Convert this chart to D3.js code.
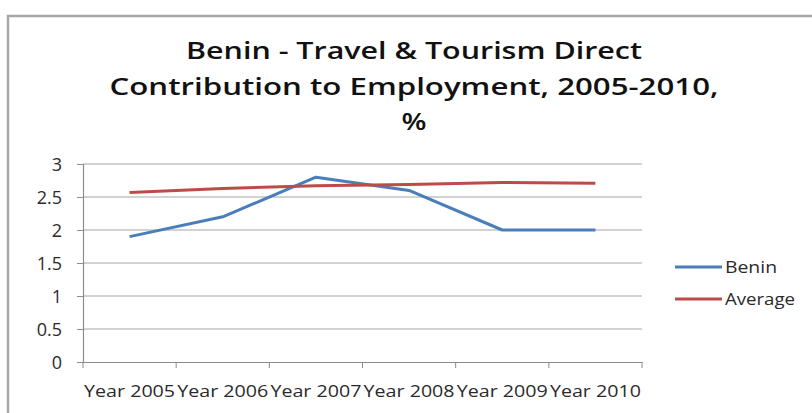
<!DOCTYPE html>
<html>
<head>
<meta charset="utf-8">
<script src="https://cdn.jsdelivr.net/npm/d3@7"></script>
<style>
  html, body { margin: 0; padding: 0; background: #fff; }
  svg { display: block; }
</style>
</head>
<body>
<svg id="chart" width="812" height="413"></svg>
<script>
// Travel & Tourism direct contribution to employment, Benin vs. average
const years = ["Year 2005", "Year 2006", "Year 2007", "Year 2008", "Year 2009", "Year 2010"];
const benin = [1.9, 2.2, 2.8, 2.6, 2.0, 2.0];
const average = [2.57, 2.63, 2.67, 2.69, 2.72, 2.71];
const yTicks = [0, 0.5, 1, 1.5, 2, 2.5, 3];
const seriesNames = ["Benin", "Average"];
const seriesColors = ["#4a7ebb", "#be4b48"];

const svg = d3.select("#chart");
const font = "'Open Sans', 'Noto Sans', sans-serif";
const textColor = "#2a2a2a";

// Outer chart frame
svg.append("rect")
  .attr("x", 8).attr("y", 16)
  .attr("width", 830).attr("height", 420)
  .attr("fill", "#fff").attr("stroke", "#a8a8a8").attr("stroke-width", 2.5);

// Title (three centred lines, slightly widened)
const titleLines = [
  { text: "Benin - Travel & Tourism Direct", width: 456 },
  { text: "Contribution to Employment, 2005-2010,", width: 609 },
  { text: "%", width: 25 }
];
svg.append("g").selectAll("text").data(titleLines).join("text")
  .attr("x", 414).attr("y", (d, i) => 59 + i * 35.5)
  .attr("text-anchor", "middle")
  .attr("font-family", font).attr("font-weight", 600).attr("font-size", 23)
  .attr("fill", "#111")
  .attr("textLength", d => d.width).attr("lengthAdjust", "spacingAndGlyphs")
  .text(d => d.text);

const plotLeft = 83, plotRight = 642, plotTop = 164, plotBottom = 362;
const x = d3.scaleBand().domain(years).range([plotLeft, plotRight]).padding(0);
const y = d3.scaleLinear().domain([0, 3]).range([plotBottom, plotTop]);

// Gridlines
svg.append("g").selectAll("line").data(yTicks.filter(t => t > 0)).join("line")
  .attr("x1", plotLeft).attr("x2", plotRight)
  .attr("y1", d => y(d)).attr("y2", d => y(d))
  .attr("stroke", "#a6a6a6").attr("stroke-width", 1.2);

// Y axis
const yAxis = svg.append("g").attr("transform", `translate(${plotLeft},0)`)
  .call(d3.axisLeft(y).tickValues(yTicks).tickSize(6).tickPadding(15).tickFormat(d3.format("")));
yAxis.select(".domain").attr("stroke", "#8c8c8c").attr("stroke-width", 1.2);
yAxis.selectAll(".tick line").attr("stroke", "#8c8c8c");
yAxis.selectAll("text").attr("font-family", font).attr("font-size", 18).attr("fill", textColor)
  .attr("dy", "0.36em");

// X axis with tick marks at category boundaries
const xAxis = svg.append("g").attr("transform", `translate(0,${plotBottom})`)
  .call(d3.axisBottom(x).tickSize(0).tickPadding(23));
xAxis.select(".domain").attr("stroke", "#8c8c8c").attr("stroke-width", 1.2);
xAxis.selectAll("text").attr("font-family", font).attr("font-size", 17).attr("fill", textColor)
  .attr("textLength", 91).attr("lengthAdjust", "spacingAndGlyphs");
const bounds = years.map(d => x(d)).concat([x(years[years.length - 1]) + x.bandwidth()]);
svg.append("g").selectAll("line").data(bounds).join("line")
  .attr("x1", d => d).attr("x2", d => d)
  .attr("y1", plotBottom).attr("y2", plotBottom + 6)
  .attr("stroke", "#8c8c8c");

// Series lines
const line = d3.line()
  .x((d, i) => x(years[i]) + x.bandwidth() / 2)
  .y(d => y(d));
[benin, average].forEach((vals, i) => {
  svg.append("path").datum(vals)
    .attr("d", line)
    .attr("fill", "none")
    .attr("stroke", seriesColors[i]).attr("stroke-width", 3)
    .attr("stroke-linejoin", "round");
});

// Legend
const legendWidths = [52, 70];
const legend = svg.append("g").selectAll("g").data(seriesNames).join("g")
  .attr("transform", (d, i) => `translate(675,${267 + i * 32})`);
legend.append("line")
  .attr("x1", 0).attr("x2", 47).attr("y1", 0).attr("y2", 0)
  .attr("stroke", (d, i) => seriesColors[i]).attr("stroke-width", 3);
legend.append("text")
  .attr("x", 50).attr("y", 5.5)
  .attr("font-family", font).attr("font-size", 16.5).attr("fill", textColor)
  .attr("textLength", (d, i) => legendWidths[i]).attr("lengthAdjust", "spacingAndGlyphs")
  .text(d => d);
</script>
</body>
</html>
